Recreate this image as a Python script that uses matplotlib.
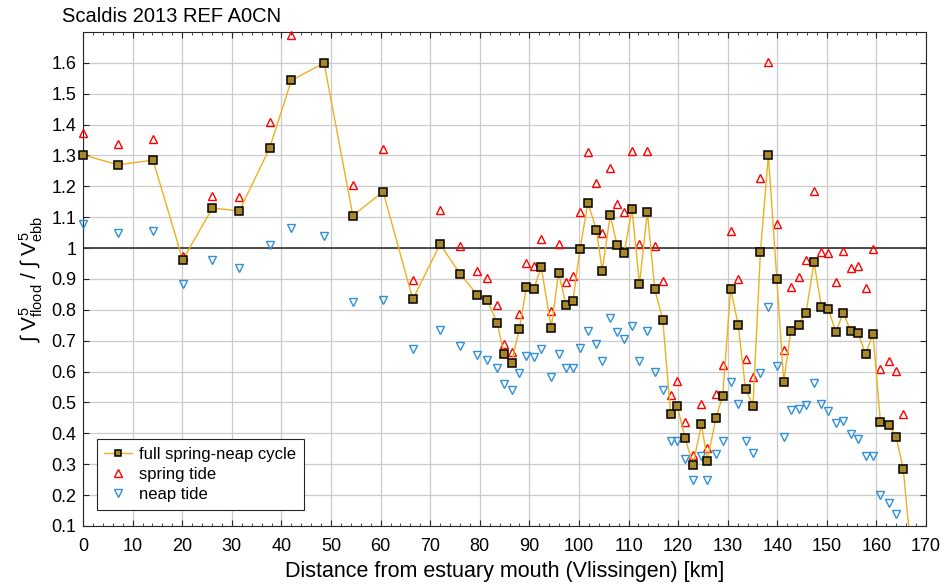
import numpy as np
import matplotlib
matplotlib.use("Agg")
import matplotlib.pyplot as plt
from matplotlib.ticker import MultipleLocator

plt.rcParams['font.family'] = ['Liberation Sans', 'DejaVu Sans']
plt.rcParams['mathtext.fontset'] = 'custom'
plt.rcParams['mathtext.rm'] = 'Liberation Sans'
plt.rcParams['mathtext.it'] = 'Liberation Sans'

# Distance depuis l'embouchure (km)
distance = [0, 7.0, 14.1, 20.1, 26.1, 31.5, 37.6, 42.0, 48.6, 54.4,
            60.5, 66.5, 72.0, 76.0, 79.5, 81.5, 83.5, 84.9, 86.4, 88.0,
            89.4, 90.9, 92.4, 94.4, 95.9, 97.4, 98.8, 100.2, 101.8, 103.5,
            104.7, 106.3, 107.7, 109.1, 110.7, 112.2, 113.8, 115.3, 116.9, 118.5,
            119.8, 121.4, 123.0, 124.7, 125.9, 127.6, 129.0, 130.6, 132.1, 133.6,
            135.1, 136.6, 138.2, 139.9, 141.3, 142.7, 144.3, 145.8, 147.4, 148.9,
            150.3, 151.8, 153.3, 154.8, 156.3, 157.8, 159.3, 160.8, 162.5, 164.0,
            165.4, 166.9]

# Cycle complet vive-eau / morte-eau
full_cycle = [1.302, 1.27, 1.285, 0.962, 1.13, 1.12, 1.323, 1.543, 1.60, 1.105,
              1.183, 0.834, 1.013, 0.917, 0.849, 0.831, 0.759, 0.656, 0.629, 0.739,
              0.875, 0.868, 0.939, 0.742, 0.92, 0.816, 0.83, 0.996, 1.147, 1.06,
              0.927, 1.107, 1.009, 0.983, 1.127, 0.884, 1.116, 0.866, 0.768, 0.462,
              0.489, 0.385, 0.299, 0.429, 0.312, 0.449, 0.522, 0.869, 0.752, 0.543,
              0.49, 0.988, 1.301, 0.901, 0.567, 0.73, 0.752, 0.791, 0.954, 0.81,
              0.804, 0.727, 0.791, 0.731, 0.724, 0.657, 0.722, 0.436, 0.428, 0.387,
              0.284, 0.03]

# Vive-eau (nan = hors du graphique)
spring = [1.374, 1.336, 1.352, 0.976, 1.168, 1.165, 1.407, 1.69, np.nan, 1.205,
          1.32, 0.898, 1.124, 1.006, 0.925, 0.904, 0.816, 0.691, 0.662, 0.788,
          0.951, 0.943, 1.029, 0.796, 1.012, 0.89, 0.91, 1.118, 1.312, 1.21,
          1.048, 1.258, 1.143, 1.117, 1.316, 1.014, 1.316, 1.008, 0.895, 0.524,
          0.568, 0.438, 0.331, 0.495, 0.353, 0.527, 0.622, 1.057, 0.899, 0.642,
          0.582, 1.227, 1.602, 1.077, 0.671, 0.874, 0.906, 0.962, 1.184, 0.988,
          0.983, 0.891, 0.992, 0.935, 0.943, 0.871, 0.998, 0.607, 0.634, 0.602,
          0.463, np.nan]

# Morte-eau
neap = [1.078, 1.05, 1.057, 0.884, 0.963, 0.935, 1.01, 1.065, 1.039, 0.824,
        0.831, 0.674, 0.734, 0.684, 0.654, 0.639, 0.611, 0.56, 0.542, 0.595,
        0.649, 0.646, 0.672, 0.583, 0.657, 0.612, 0.612, 0.677, 0.732, 0.691,
        0.635, 0.775, 0.727, 0.707, 0.748, 0.636, 0.732, 0.6, 0.541, 0.376,
        0.376, 0.317, 0.248, 0.327, 0.248, 0.333, 0.374, 0.565, 0.496, 0.374,
        0.335, 0.597, 0.808, 0.617, 0.387, 0.475, 0.478, 0.491, 0.564, 0.494,
        0.473, 0.432, 0.44, 0.397, 0.381, 0.328, 0.328, 0.199, 0.174, 0.139,
        np.nan, np.nan]

ymin, ymax = 0.1, 1.7

fig = plt.figure(figsize=(9.44, 5.86), dpi=100)
ax = fig.add_axes([0.088, 0.1024, 0.893, 0.843])

ax.axhline(1.0, color='#404040', lw=1.3, zorder=2)

full_arr = np.array(full_cycle)
full_vis = np.where(full_arr < ymin, np.nan, full_arr)

ax.plot(distance, full_cycle, '-', color='#EDB120', lw=1.0, zorder=4)
ax.plot(distance, full_vis, 's', ms=5.5, mfc='#A8862C', mec='black', mew=1.1,
        zorder=5, clip_on=False)
ax.plot(distance, spring, '^', color='red', ms=6, mfc='none', mew=1.0,
        zorder=3, linestyle='none', clip_on=False)
ax.plot(distance, neap, 'v', color='#2F8FD8', ms=6, mfc='none', mew=1.0,
        zorder=3, linestyle='none', clip_on=False)

# poignées de légende
h_full, = ax.plot([], [], '-s', color='#EDB120', lw=1.0, ms=5, mfc='#A8862C',
                  mec='black', mew=1.1, label='full spring-neap cycle')
h_spring, = ax.plot([], [], '^', color='red', ms=6, mfc='none', mew=1.0,
                    linestyle='none', label='spring tide')
h_neap, = ax.plot([], [], 'v', color='#2F8FD8', ms=6, mfc='none', mew=1.0,
                  linestyle='none', label='neap tide')

ax.set_xlim(0, 170)
ax.set_ylim(ymin, ymax)
ax.xaxis.set_major_locator(MultipleLocator(10))
ax.xaxis.set_minor_locator(MultipleLocator(2))
yt = np.round(np.arange(0.1, 1.65, 0.1), 1)
ax.set_yticks(yt)
ax.set_yticklabels([f"{v:g}" for v in yt])

ax.grid(True, which='major', color='#cbcbcb', lw=0.9)
ax.tick_params(which='both', direction='in', top=True, right=True, labelsize=13,
               color='#262626')
ax.tick_params(which='major', length=4)
ax.tick_params(which='minor', length=2.5)
ax.tick_params(axis='x', which='major', pad=9)
ax.tick_params(axis='y', which='major', pad=5)
for s in ax.spines.values():
    s.set_color('#262626')
    s.set_linewidth(0.8)

ax.set_xlabel('Distance from estuary mouth (Vlissingen) [km]', fontsize=15.5, labelpad=4)
ax.set_ylabel(r'$\int\ V^5_{\mathrm{flood}}\ /\ \int\ V^5_{\mathrm{ebb}}$', fontsize=15,
              labelpad=4)

fig.text(0.066, 0.972, 'Scaldis 2013 REF A0CN', fontsize=14.5, va='center', ha='left')

leg = ax.legend(handles=[h_full, h_spring, h_neap], loc='lower left',
                bbox_to_anchor=(0.016, 0.033), fontsize=12, fancybox=False,
                edgecolor='#262626', framealpha=1, borderaxespad=0,
                handlelength=1.7, labelspacing=0.32, borderpad=0.45,
                handletextpad=0.4)
leg.get_frame().set_linewidth(0.8)

fig.savefig('out.png', dpi=100)
